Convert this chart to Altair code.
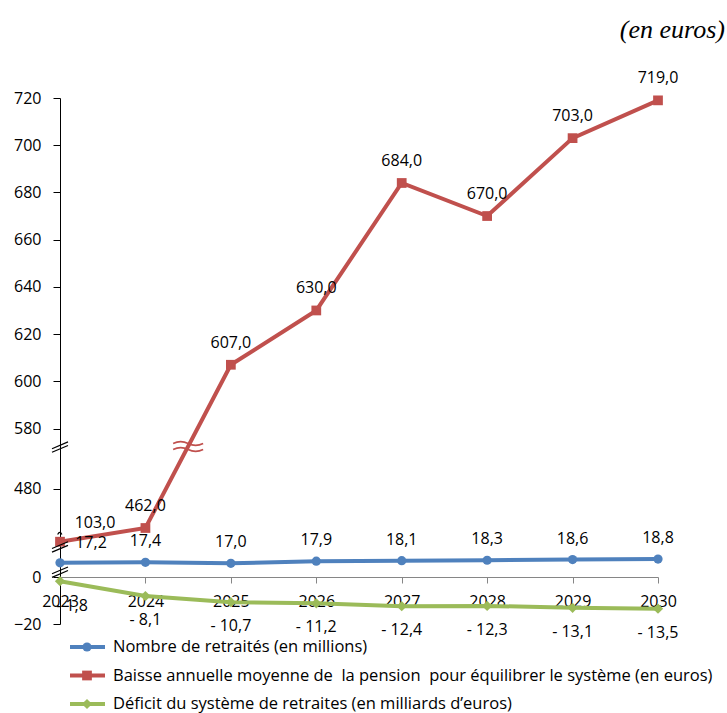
import altair as alt
import pandas as pd

# ---- values ----
years = [2023, 2024, 2025, 2026, 2027, 2028, 2029, 2030]
retraites = [17.2, 17.4, 17.0, 17.9, 18.1, 18.3, 18.6, 18.8]
baisse_pension = [103.0, 462.0, 607.0, 630.0, 684.0, 670.0, 703.0, 719.0]
deficit = [-1.8, -8.1, -10.7, -11.2, -12.4, -12.3, -13.1, -13.5]

series_names = [
    "Nombre de retraités (en millions)",
    "Baisse annuelle moyenne de\u00a0 la pension\u00a0 pour équilibrer le système (en euros)",
    "Déficit du système de retraites (en milliards d\u2019euros)",
]
series_values = [retraites, baisse_pension, deficit]
series_colors = ["#4F81BD", "#C0504D", "#9BBB59"]
series_shapes = ["circle", "square", "diamond"]
series_sizes = [85, 105, 80]

y_tick_values = [-20, 0, 480, 580, 600, 620, 640, 660, 680, 700, 720]

# broken y axis: a piecewise-linear scale (data breakpoints -> pixel rows)
y_breaks_domain = [-20, 0, 17, 19, 103, 462, 480, 580, 720]
y_breaks_range = [526, 479, 465.3, 460.6, 443.7, 430, 390.5, 330.5, 0]

FONT = "Open Sans"
W, H = 598, 526


def fmt(v):
    s = f"{abs(v):.1f}".replace(".", ",")
    return "- " + s if v < 0 else s


rows = []
for name, vals in zip(series_names, series_values):
    for yr, v in zip(years, vals):
        rows.append({"year": yr, "value": v, "series": name, "label": fmt(v)})
df = pd.DataFrame(rows)

x_scale = alt.Scale(domain=[years[0], years[-1]], nice=False, zero=False)
y_scale = alt.Scale(domain=y_breaks_domain, range=y_breaks_range, nice=False, zero=False)

x_axis = alt.Axis(
    values=years, format="d", title=None, grid=False, offset=-47,
    domainColor="#868686", tickColor="#868686", tickSize=6,
    labelFont=FONT, labelFontSize=16, labelColor="black", labelPadding=10,
    labelFlush=False, labelOverlap=False,
)
y_axis = alt.Axis(
    values=y_tick_values, format="d", title=None, grid=False,
    domainColor="black", tickColor="black", tickSize=7,
    labelFont=FONT, labelFontSize=16, labelColor="black", labelPadding=12,
    labelOverlap=False,
)

color = alt.Color("series:N", scale=alt.Scale(domain=series_names, range=series_colors), legend=None)
shape = alt.Shape("series:N", scale=alt.Scale(domain=series_names, range=series_shapes), legend=None)
size = alt.Size("series:N", scale=alt.Scale(domain=series_names, range=series_sizes), legend=None)

X = alt.X("year:Q", scale=x_scale, axis=x_axis)
Y = alt.Y("value:Q", scale=y_scale, axis=y_axis)

lines = alt.Chart(df).mark_line(strokeWidth=4).encode(x=X, y=Y, color=color, detail="series:N")
points = alt.Chart(df).mark_point(filled=True, opacity=1).encode(
    x=X, y=Y, color=color, shape=shape, size=size
)

# value labels (the first year's labels sit slightly to the right of the axis)
label_dy = [-21, -22, 24]
first_dx = [31, 35, 12]
first_dy = [-20, -19, 25]
labels = []
for name, dy, dx0, dy0 in zip(series_names, label_dy, first_dx, first_dy):
    sub = df[df.series == name]
    labels.append(
        alt.Chart(sub[sub.year != years[0]])
        .mark_text(font=FONT, fontSize=16, color="black", dy=dy)
        .encode(x=X, y=Y, text="label:N")
    )
    labels.append(
        alt.Chart(sub[sub.year == years[0]])
        .mark_text(font=FONT, fontSize=16, color="black", dx=dx0, dy=dy0)
        .encode(x=X, y=Y, text="label:N")
    )

# axis-break symbols
AXIS_BREAK = "M-1,0.2L1,-0.65M-1,0.65L1,-0.2"
LINE_BREAK = "M-1,-0.2Q-0.5,-0.45 0,-0.2T1,-0.2M-1,0.2Q-0.5,-0.05 0,0.2T1,0.2"
SQUIGGLE = (
    "M-1,-0.08q0.05,-0.1 0.1,0t0.1,0L-0.12,-0.08q0.06,-0.1 0.12,0t0.12,0"
    "L0.76,-0.08q0.06,-0.1 0.12,0t0.12,0"
    "M-1,0.08q0.05,-0.1 0.1,0t0.1,0L-0.12,0.08q0.06,-0.1 0.12,0t0.12,0"
    "L0.76,0.08q0.06,-0.1 0.12,0t0.12,0"
)
axis_break_df = pd.DataFrame({"year": [2023, 2023, 2023], "value": [549, 77, 6]})
line_break_df = pd.DataFrame({"year": [2024.5], "value": [550]})
squiggle_df = pd.DataFrame({"year": [2023.47], "value": [200]})

axis_breaks = alt.Chart(axis_break_df).mark_point(
    shape=AXIS_BREAK, size=256, filled=False, color="black", strokeWidth=1.2, opacity=1
).encode(x=X, y=Y)
line_break = alt.Chart(line_break_df).mark_point(
    shape=LINE_BREAK, size=900, filled=False, color="#C0504D", strokeWidth=1.5, opacity=1
).encode(x=X, y=Y)
squiggle = alt.Chart(squiggle_df).mark_point(
    shape=SQUIGGLE, size=7225, filled=False, color="black", strokeWidth=1.2, opacity=1
).encode(x=X, y=Y)

unit_note = alt.Chart(pd.DataFrame({"t": ["(en euros)"]})).mark_text(
    font="Liberation Serif", fontSize=26, fontStyle="italic", color="black",
    align="right", baseline="middle",
).encode(x=alt.value(665), y=alt.value(-68), text="t:N")

main = alt.layer(
    lines, points, line_break, *labels, squiggle, axis_breaks, unit_note
)

# legend rows under the plot
legend_df = pd.DataFrame({"series": series_names, "row": [0, 1, 2]})
LY = alt.Y("row:Q", scale=alt.Scale(domain=[0, 2], range=[549, 606]), axis=None)
leg_line = alt.Chart(legend_df).mark_rule(strokeWidth=4).encode(
    x=alt.value(10), x2=alt.value(45), y=LY, color=color
)
leg_mark = alt.Chart(legend_df).mark_point(filled=True, opacity=1).encode(
    x=alt.value(27), y=LY, color=color, shape=shape, size=size
)
leg_text = alt.Chart(legend_df).mark_text(
    font=FONT, fontSize=16.5, color="black", align="left", baseline="middle"
).encode(x=alt.value(53), y=LY, text="series:N")
legend = alt.layer(leg_line, leg_mark, leg_text)

chart = (
    alt.layer(main, legend)
    .resolve_scale(y="independent")
    .properties(
        width=W, height=H,
        autosize=alt.AutoSizeParams(type="none"),
        padding={"left": 60, "top": 98, "right": 69, "bottom": 89},
        background="white",
    )
    .configure_view(stroke=None)
)

chart.save("out.html", embed_options={"renderer": "svg", "actions": False})
